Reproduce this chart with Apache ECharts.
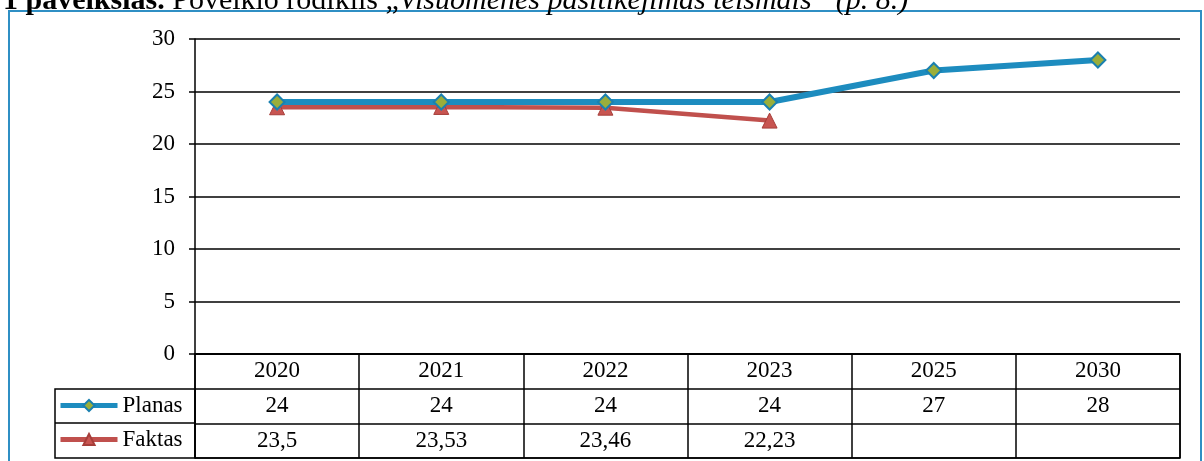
<!DOCTYPE html>
<html>
<head>
<meta charset="utf-8">
<script src="https://cdn.jsdelivr.net/npm/echarts@6/dist/echarts.min.js"></script>
<style>
  html, body { margin: 0; padding: 0; background: #fff; }
  #chart { width: 1204px; height: 461px; }
</style>
</head>
<body>
<div id="chart"></div>
<script>
// duomenys
const years = ['2020', '2021', '2022', '2023', '2025', '2030'];
const planas = [24, 24, 24, 24, 27, 28];
const faktas = [23.5, 23.53, 23.46, 22.23, null, null];
const rows = ['metai', 'Planas', 'Faktas'];

const serif = 'Liberation Serif, Times New Roman, serif';

function fmt(v) {
  return String(v).replace('.', ',');
}

// lentelės langeliai
let cells = [];
years.forEach((y, i) => cells.push([i, 0, y]));
planas.forEach((v, i) => { if (v != null) cells.push([i, 1, fmt(v)]) });
faktas.forEach((v, i) => { if (v != null) cells.push([i, 2, fmt(v)]) });

let chart = echarts.init(document.getElementById('chart'));
let option = {
  animation: false,
  legend: {
    data: ['Planas', 'Faktas'],
    orient: 'vertical',
    left: 58,
    top: 394,
    padding: 0,
    itemWidth: 57,
    itemHeight: 14,
    itemGap: 11,
    lineStyle: { width: 5 },
    textStyle: { fontFamily: serif, fontSize: 23, color: '#000' }
  },
  graphic: [
    {
      type: 'rect',
      shape: { x: 9, y: 11, width: 1192, height: 470 },
      style: { fill: 'none', stroke: '#2f8fc4', lineWidth: 2 }
    },
    {
      type: 'rect',
      shape: { x: 55, y: 389, width: 140, height: 69 },
      style: { fill: 'none', stroke: '#000', lineWidth: 1.5 }
    },
    {
      type: 'line',
      shape: { x1: 55, y1: 423, x2: 195, y2: 423 },
      style: { stroke: '#000', lineWidth: 1.5 }
    },
    {
      type: 'text',
      x: 3,
      y: -14,
      style: {
        text: '{b|1 paveikslas.} {n|Poveikio rodiklis „}{i|Visuomenės pasitikėjimas teismais“ (p. 8.)}',
        font: '30px Liberation Serif',
        verticalAlign: 'top',
        fill: '#000',
        rich: {
          b: { font: 'bold 30px Liberation Serif', lineHeight: 31 },
          n: { font: '30px Liberation Serif', lineHeight: 31 },
          i: { font: 'italic 30px Liberation Serif', lineHeight: 31 }
        }
      }
    }
  ],
  grid: [
    { left: 195, right: 24, top: 39, height: 315 },
    { left: 195, right: 24, top: 354, height: 104, show: true, borderColor: '#000', borderWidth: 1.5 }
  ],
  xAxis: [
    {
      type: 'category',
      gridIndex: 0,
      data: years,
      axisLine: { lineStyle: { color: '#000', width: 1.5 } },
      axisTick: { show: false },
      axisLabel: { show: false }
    },
    {
      type: 'category',
      gridIndex: 1,
      data: years,
      axisLine: { show: false },
      axisTick: { show: false },
      axisLabel: { show: false },
      splitLine: { show: true, lineStyle: { color: '#000', width: 1.5 } }
    }
  ],
  yAxis: [
    {
      type: 'value',
      gridIndex: 0,
      min: 0,
      max: 30,
      interval: 5,
      axisLine: { show: true, lineStyle: { color: '#000', width: 1.5 } },
      axisTick: { show: true, length: 6, lineStyle: { color: '#000', width: 1.5 } },
      axisLabel: { fontFamily: serif, fontSize: 23, color: '#000', margin: 20 },
      splitLine: { lineStyle: { color: '#000', width: 1.5 } }
    },
    {
      type: 'category',
      gridIndex: 1,
      inverse: true,
      data: rows,
      axisLine: { show: false },
      axisTick: { show: false },
      axisLabel: { show: false },
      splitLine: { show: true, lineStyle: { color: '#000', width: 1.5 } }
    }
  ],
  series: [
    {
      name: 'Faktas',
      type: 'line',
      data: faktas,
      symbol: 'triangle',
      symbolSize: 15,
      lineStyle: { color: '#c0504d', width: 4.5 },
      itemStyle: { color: '#c85551', borderColor: '#a63e3a', borderWidth: 1 }
    },
    {
      name: 'Planas',
      type: 'line',
      data: planas,
      symbol: 'diamond',
      symbolSize: 15,
      lineStyle: { color: '#1d8cbf', width: 6 },
      itemStyle: { color: '#9aae3a', borderColor: '#1a80b0', borderWidth: 2 }
    },
    {
      name: 'lentele',
      type: 'scatter',
      xAxisIndex: 1,
      yAxisIndex: 1,
      data: cells,
      symbolSize: 1,
      itemStyle: { color: 'rgba(0,0,0,0)' },
      silent: true,
      label: {
        show: true,
        position: 'inside',
        formatter: p => p.data[2],
        fontFamily: serif,
        fontSize: 23,
        color: '#000',
        textBorderWidth: 0,
        opacity: 1
      }
    }
  ]
};
chart.setOption(option);
</script>
</body>
</html>
